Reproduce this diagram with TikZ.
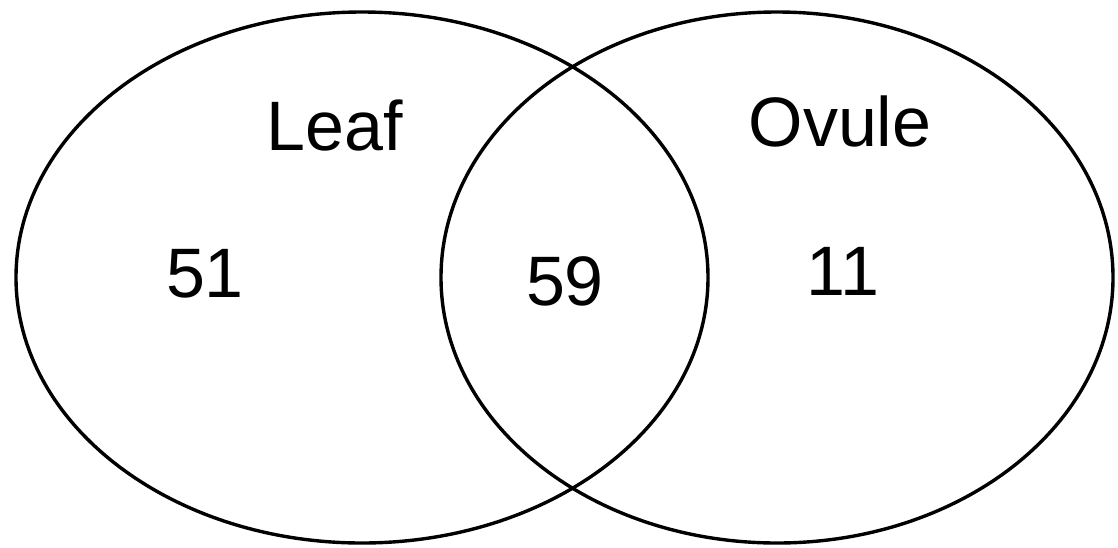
\documentclass[tikz,border=0pt]{standalone}
\usepackage{fontspec}
\setmainfont{Liberation Sans}
\begin{document}
\begin{tikzpicture}[x=1pt,y=-1pt,
  setline/.style={draw=black,line width=3.4pt},
  lbl/.style={font=\fontsize{70}{80}\selectfont,inner sep=0pt,text=black}]
\useasboundingbox (0,0) rectangle (1118,547);
\fill[white] (0,0) rectangle (1118,547);
\draw[setline] (362,277.5) ellipse [x radius=346, y radius=265.5];
\draw[setline] (777,277.5) ellipse [x radius=336, y radius=265.5];
\node[lbl] (leaf) at (335,126) {Leaf};
\node[lbl] (ovule) at (840,121) {Ovule};
\node[lbl] (a) at (205,274) {51};
\node[lbl] (b) at (565,281) {59};
\node[lbl] (c) at (843,271) {11};
\end{tikzpicture}
\end{document}
